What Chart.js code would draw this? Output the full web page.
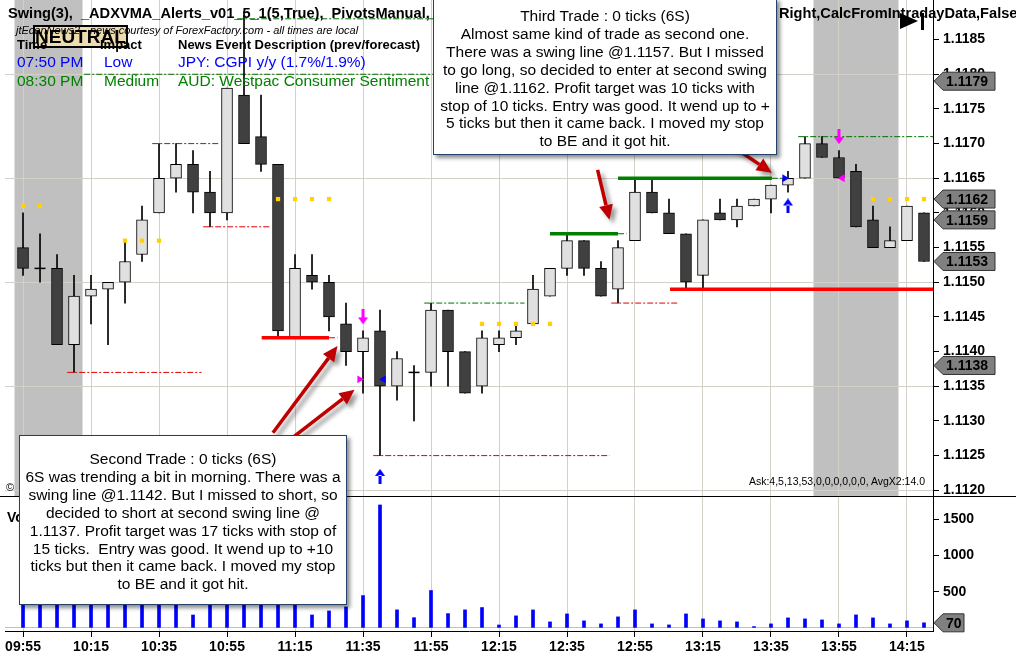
<!DOCTYPE html>
<html>
<head>
<meta charset="utf-8">
<script src="https://cdn.jsdelivr.net/npm/chart.js@4.4.1/dist/chart.umd.min.js"></script>
<style>
  body { margin: 0; background: #fff; }
  #wrap { position: relative; width: 1016px; height: 664px; overflow: hidden; background: #fff;
          font-family: "Liberation Sans", Arial, sans-serif; }
  canvas { position: absolute; left: 0; }
  #price { top: 0; }
  #volume { top: 497px; }
  .txt { position: absolute; white-space: pre; color: #000; }
  .title { font-weight: bold; font-size: 14.6px; line-height: 16px; top: 5px; }
  .head { font-weight: bold; font-size: 13px; line-height: 15px; top: 37px; }
  .row1 { font-size: 15.5px; line-height: 17px; top: 53px; color: #0000ff; }
  .row2 { font-size: 15.5px; line-height: 17px; top: 72px; color: #008000; }
  #neutralBox { position: absolute; left: 33px; top: 25px; width: 91px; height: 19px;
                background: #efdbb0; border: 2px solid #000; }
  .note { position: absolute; background: #fff; border: 1.5px solid #23406a; text-align: center;
          font-size: 15.5px; line-height: 17.9px; color: #000; box-shadow: 3px 3px 4px rgba(0,0,0,0.45);
          box-sizing: border-box; white-space: nowrap; }
  #sep { position: absolute; left: 0; top: 496px; width: 1016px; height: 1px; background: #000; }
  #endTri { position: absolute; left: 900px; top: 13px; width: 0; height: 0;
            border-left: 18px solid #000; border-top: 8.5px solid transparent; border-bottom: 8.5px solid transparent; }
  #endBar { position: absolute; left: 921px; top: 13px; width: 3px; height: 17px; background: #000; }
</style>
</head>
<body>
<div id="wrap">
  <canvas id="price" width="1016" height="497"></canvas>
  <canvas id="volume" width="1016" height="167"></canvas>
  <div id="sep"></div>

  <div class="txt title" style="left:8px">Swing(3),  _ADXVMA_Alerts_v01_5_1(5,True),  PivotsManual,</div>
  <div class="txt title" style="left:779px">Right,CalcFromIntradayData,False,T</div>
  <div id="endTri"></div><div id="endBar"></div>

  <div id="neutralBox"></div>
  <div class="txt" style="left:16px;top:24px;font-size:11px;font-style:italic;line-height:13px">jtEconNews2 - news courtesy of ForexFactory.com - all times are local</div>
  <div class="txt" style="left:35px;top:25px;font-size:19px;font-weight:bold;line-height:23px">NEUTRAL</div>
  <div class="txt head" style="left:17px">Time</div>
  <div class="txt head" style="left:100px">Impact</div>
  <div class="txt head" style="left:178px">News Event Description (prev/forecast)</div>
  <div class="txt row1" style="left:17px">07:50 PM</div>
  <div class="txt row1" style="left:104px">Low</div>
  <div class="txt row1" style="left:178px">JPY: CGPI y/y (1.7%/1.9%)</div>
  <div class="txt row2" style="left:17px">08:30 PM</div>
  <div class="txt row2" style="left:104px">Medium</div>
  <div class="txt row2" style="left:178px">AUD: Westpac Consumer Sentiment</div>

  <div class="txt" style="right:91px;top:475px;font-size:10.5px;line-height:13px">Ask:4,5,13,53,0,0,0,0,0,0, AvgX2:14.0</div>
  <div class="txt" style="left:6px;top:481px;font-size:11px;line-height:13px">©</div>
  <div class="txt" style="left:7px;top:509px;font-size:14px;font-weight:bold;line-height:16px">Volume</div>

  <div class="note" style="left:19px;top:435px;width:328px;height:170px;padding-top:14px">Second Trade : 0 ticks (6S)<br>6S was trending a bit in morning. There was a<br>swing line @1.1142. But I missed to short, so<br>decided to short at second swing line @<br>1.1137. Profit target was 17 ticks with stop of<br>15 ticks.&nbsp; Entry was good. It wend up to +10<br>ticks but then it came back. I moved my stop<br>to BE and it got hit.</div>
  <div class="note" style="left:433px;top:-2px;width:344px;height:157px;padding-top:8px">Third Trade : 0 ticks (6S)<br>Almost same kind of trade as second one.<br>There was a swing line @1.1157. But I missed<br>to go long, so decided to enter at second swing<br>line @1.1162. Profit target was 10 ticks with<br>stop of 10 ticks. Entry was good. It wend up to +<br>5 ticks but then it came back. I moved my stop<br>to BE and it got hit.</div>
</div>

<script>
// 5 minute bars
const times = ['09:55','10:00','10:05','10:10','10:15','10:20','10:25','10:30','10:35','10:40','10:45','10:50',
  '10:55','11:00','11:05','11:10','11:15','11:20','11:25','11:30','11:35','11:40','11:45','11:50',
  '11:55','12:00','12:05','12:10','12:15','12:20','12:25','12:30','12:35','12:40','12:45','12:50',
  '12:55','13:00','13:05','13:10','13:15','13:20','13:25','13:30','13:35','13:40','13:45','13:50',
  '13:55','14:00','14:05','14:10','14:15','14:20'];

const opens = [1.1155,1.1152,1.1152,1.1141,1.1148,1.1149,1.1150,1.1154,1.1160,1.1165,
  1.1167,1.1163,1.1160,1.1177,1.1171,1.1167,1.1142,1.1151,1.1150,1.1144,
  1.1140,1.1143,1.1135,1.1137,1.1137,1.1146,1.1140,1.1135,1.1141,1.1142,
  1.1144,1.1148,1.1152,1.1156,1.1152,1.1149,1.1156,1.1163,1.1160,1.1157,
  1.1151,1.1160,1.1159,1.1161,1.1162,1.1164,1.1165,1.1170,1.1168,1.1166,
  1.1159,1.1155,1.1156,1.1160];
const highs = [1.1160,1.1157,1.1154,1.1151,1.1151,1.1150,1.1156,1.1161,1.1170,1.1170,
  1.1169,1.1166,1.1178,1.1189,1.1177,1.1167,1.1154,1.1154,1.1151,1.1147,
  1.1143,1.1146,1.1140,1.1138,1.1147,1.1146,1.1140,1.1143,1.1143,1.1144,
  1.1151,1.1152,1.1157,1.1156,1.1153,1.1156,1.1165,1.1165,1.1162,1.1157,
  1.1159,1.1162,1.1162,1.1162,1.1164,1.1166,1.1171,1.1171,1.1169,1.1167,
  1.1161,1.1158,1.1161,1.1160];
const lows = [1.1151,1.1150,1.1141,1.1137,1.1144,1.1141,1.1147,1.1153,1.1160,1.1163,
  1.1160,1.1158,1.1159,1.1170,1.1166,1.1142,1.1142,1.1149,1.1143,1.1138,
  1.1134,1.1125,1.1133,1.1130,1.1135,1.1135,1.1134,1.1134,1.1140,1.1141,
  1.1144,1.1148,1.1151,1.1151,1.1148,1.1147,1.1156,1.1160,1.1157,1.1149,
  1.1149,1.1159,1.1158,1.1161,1.1160,1.1163,1.1165,1.1168,1.1165,1.1158,
  1.1155,1.1155,1.1156,1.1153];
const closes = [1.1152,1.1152,1.1141,1.1148,1.1149,1.1150,1.1153,1.1159,1.1165,1.1167,
  1.1163,1.1160,1.1178,1.1170,1.1167,1.1143,1.1152,1.1150,1.1145,1.1140,
  1.1142,1.1135,1.1139,1.1137,1.1146,1.1140,1.1134,1.1142,1.1142,1.1143,
  1.1149,1.1152,1.1156,1.1152,1.1148,1.1155,1.1163,1.1160,1.1157,1.1150,
  1.1159,1.1159,1.1161,1.1162,1.1164,1.1165,1.1170,1.1168,1.1165,1.1158,
  1.1155,1.1156,1.1161,1.1153];
const volumes = [420,380,510,460,350,330,400,440,560,470,
  178,380,620,540,450,380,700,178,234,290,
  446,1698,249,141,516,197,249,281,40,166,
  248,83,193,97,55,152,248,55,41,193,
  124,97,83,18,55,138,124,110,55,179,
  138,55,97,70];

const priceTicks = [1.1120,1.1125,1.1130,1.1135,1.1140,1.1145,1.1150,1.1155,1.1160,1.1165,1.1170,1.1175,1.1180,1.1185];
const volumeTicks = [0, 500, 1000, 1500];
const timeTickBars = [0,4,8,12,16,20,24,28,32,36,40,44,48,52];

// shaded sessions, in bar units
const shadeRanges = [[-0.5, 3.5], [46.5, 51.5]];

// [from bar, to bar, price]
const redSwing = [[14.04, 18.0, 1.1142], [38.06, 53.6, 1.1149]];
const greenSwing = [[31.0, 35.0, 1.1157], [35.0, 44.05, 1.1165]];
const redPivot = [[2.6, 10.5, 1.1137], [10.6, 14.5, 1.1158], [18.0, 18.5, 1.1142], [20.6, 34.5, 1.1125], [34.6, 38.5, 1.1147]];
const greenPivot = [[3.6, 24.4, 1.1180], [7.6, 11.5, 1.1170], [12.6, 24.4, 1.1188], [23.6, 29.5, 1.1147],
  [35.0, 35.5, 1.1157], [44.05, 44.7, 1.1165], [45.6, 53.6, 1.1171]];

// [bar, price]
const yellowDots = [[0,1.1161],[1,1.1161],[6,1.1156],[7,1.1156],[8,1.1156],
  [15,1.1162],[16,1.1162],[17,1.1162],[18,1.1162],
  [27,1.1144],[28,1.1144],[29,1.1144],[30,1.1144],[31,1.1144],
  [50,1.1162],[51,1.1162],[52,1.1162],[53,1.1162]];
const sellArrows = [[20, 1.1145], [48, 1.1171]];
const buyArrows = [[21, 1.1122], [45, 1.1161]];
const magentaRight = [[19.8, 1.1136]];
const blueLeft = [[21.2, 1.1136]];
const blueRight = [[44.8, 1.1165]];
const magentaLeft = [[48.2, 1.1165]];

// last-value tags on the right axes
const priceTags = [1.1179, 1.1162, 1.1159, 1.1153, 1.1138];
const volumeTags = [70];

// note arrows: [from bar, from price, to bar, to price]
const noteArrows = [[14.7, 1.11283, 18.5, 1.11408], [15.8, 1.11275, 19.5, 1.11345],
  [33.8, 1.11662, 34.5, 1.11590], [41.6, 1.11698, 44.05, 1.11658]];

const bars = opens.map((_, i) => i);
const FONT = 'Liberation Sans';
const GRID = '#d4d0c8';

function segments(list) {
  const pts = [];
  list.forEach(([a, b, p]) => { pts.push({ x: a, y: p }, { x: b, y: p }, { x: b, y: null }); });
  return pts;
}
function points(list) {
  return list.map(([x, y]) => ({ x, y }));
}

// little arrow glyphs used as point styles
function arrowImage(color, down) {
  const c = document.createElement('canvas');
  c.width = 10; c.height = 15;
  const g = c.getContext('2d');
  g.fillStyle = color;
  g.beginPath();
  if (down) {
    g.rect(3.5, 0, 3, 9);
    g.moveTo(0, 8); g.lineTo(10, 8); g.lineTo(5, 15);
  } else {
    g.rect(3.5, 6, 3, 9);
    g.moveTo(0, 7); g.lineTo(10, 7); g.lineTo(5, 0);
  }
  g.fill();
  return c;
}

const bodyBars = bars.filter(i => opens[i] !== closes[i]);
const bodies = bodyBars.map(i => ({ x: i, y: [opens[i], closes[i]] }));
const bodyColors = bodyBars.map(i => closes[i] > opens[i] ? '#e0e0e0' : '#404040');
const dojis = bars.filter(i => opens[i] === closes[i]).map(i => ({ x: i, y: closes[i] }));
const wicks = bars.map(i => ({ x: i, y: [lows[i], highs[i]] }));

function drawTag(ctx, x, y, text, w) {
  ctx.save();
  ctx.beginPath();
  ctx.moveTo(x + 1, y);
  ctx.lineTo(x + 10, y - 9);
  ctx.lineTo(x + 10 + w, y - 9);
  ctx.lineTo(x + 10 + w, y + 9);
  ctx.lineTo(x + 10, y + 9);
  ctx.closePath();
  ctx.fillStyle = '#808080';
  ctx.fill();
  ctx.strokeStyle = '#333';
  ctx.lineWidth = 1;
  ctx.stroke();
  ctx.fillStyle = '#000';
  ctx.font = 'bold 14px "' + FONT + '"';
  ctx.textBaseline = 'middle';
  ctx.textAlign = 'left';
  ctx.fillText(text, x + 13, y + 1);
  ctx.restore();
}

function drawNoteArrow(ctx, x1, y1, x2, y2) {
  const ang = Math.atan2(y2 - y1, x2 - x1);
  const head = 15, half = 7;
  const bx = x2 - head * Math.cos(ang), by = y2 - head * Math.sin(ang);
  ctx.save();
  ctx.shadowColor = 'rgba(0,0,0,0.4)';
  ctx.shadowBlur = 4;
  ctx.shadowOffsetX = 4;
  ctx.shadowOffsetY = 4;
  ctx.strokeStyle = '#c00000';
  ctx.fillStyle = '#c00000';
  ctx.lineWidth = 3.5;
  ctx.beginPath();
  ctx.moveTo(x1, y1);
  ctx.lineTo(bx, by);
  ctx.stroke();
  ctx.beginPath();
  ctx.moveTo(x2, y2);
  ctx.lineTo(bx + half * Math.sin(ang), by - half * Math.cos(ang));
  ctx.lineTo(bx - half * Math.sin(ang), by + half * Math.cos(ang));
  ctx.closePath();
  ctx.fill();
  ctx.restore();
}

// gray session bands under the grid
const bandPlugin = {
  id: 'bands',
  beforeDraw(chart) {
    const { ctx, chartArea, scales } = chart;
    ctx.save();
    ctx.fillStyle = '#c0c0c0';
    shadeRanges.forEach(([a, b]) => {
      const x1 = scales.x.getPixelForValue(a), x2 = scales.x.getPixelForValue(b);
      ctx.fillRect(x1, chartArea.top, x2 - x1, chartArea.bottom - chartArea.top);
    });
    ctx.restore();
  }
};

const notePlugin = {
  id: 'notes',
  afterDatasetsDraw(chart) {
    const { ctx, scales } = chart;
    noteArrows.forEach(([a, p, b, q]) => {
      drawNoteArrow(ctx, scales.x.getPixelForValue(a), scales.y.getPixelForValue(p),
        scales.x.getPixelForValue(b), scales.y.getPixelForValue(q));
    });
  }
};

const priceTagPlugin = {
  id: 'priceTags',
  afterDraw(chart) {
    const { ctx, chartArea, scales } = chart;
    priceTags.forEach(v => drawTag(ctx, chartArea.right, scales.y.getPixelForValue(v), v.toFixed(4), 52));
  }
};

const volumeTagPlugin = {
  id: 'volumeTags',
  afterDraw(chart) {
    const { ctx, chartArea, scales } = chart;
    volumeTags.forEach(v => drawTag(ctx, chartArea.right, scales.y.getPixelForValue(v), String(v), 21));
  }
};

const xRange = { min: -1.06, max: 53.53 };

new Chart(document.getElementById('price'), {
  type: 'bar',
  data: {
    datasets: [
      { type: 'line', data: segments(redPivot), borderColor: '#e00000', borderWidth: 1,
        borderDash: [6, 2, 2, 2], pointRadius: 0, order: 9 },
      { type: 'line', data: segments(greenPivot), borderColor: '#007000', borderWidth: 1,
        borderDash: [6, 2, 2, 2], pointRadius: 0, order: 9 },
      { data: wicks, backgroundColor: '#000', barThickness: 1, grouped: false, order: 8 },
      { data: bodies, backgroundColor: bodyColors, borderColor: '#000', borderWidth: 1,
        borderSkipped: false, barThickness: 11, grouped: false, order: 7 },
      { type: 'scatter', data: dojis, pointStyle: 'line', pointRadius: 5.5, borderColor: '#000',
        borderWidth: 1.5, order: 6 },
      { type: 'line', data: segments(redSwing), borderColor: '#ff0000', borderWidth: 3.5,
        pointRadius: 0, order: 5 },
      { type: 'line', data: segments(greenSwing), borderColor: '#008000', borderWidth: 3.5,
        pointRadius: 0, order: 5 },
      { type: 'scatter', data: points(yellowDots), pointStyle: 'rect', pointRadius: 3,
        backgroundColor: '#ffd200', borderWidth: 0, order: 4 },
      { type: 'scatter', data: points(sellArrows), pointStyle: arrowImage('#ff00ff', true), order: 3 },
      { type: 'scatter', data: points(buyArrows), pointStyle: arrowImage('#0000ff', false), order: 3 },
      { type: 'scatter', data: points(magentaRight), pointStyle: 'triangle', rotation: 90, pointRadius: 4.5,
        backgroundColor: '#ff00ff', borderWidth: 0, order: 3 },
      { type: 'scatter', data: points(magentaLeft), pointStyle: 'triangle', rotation: -90, pointRadius: 4.5,
        backgroundColor: '#ff00ff', borderWidth: 0, order: 3 },
      { type: 'scatter', data: points(blueLeft), pointStyle: 'triangle', rotation: -90, pointRadius: 4.5,
        backgroundColor: '#0000ff', borderWidth: 0, order: 3 },
      { type: 'scatter', data: points(blueRight), pointStyle: 'triangle', rotation: 90, pointRadius: 4.5,
        backgroundColor: '#0000ff', borderWidth: 0, order: 3 }
    ]
  },
  options: {
    responsive: false,
    animation: false,
    layout: { autoPadding: false, padding: { left: 5, right: 0, top: 0, bottom: 0 } },
    plugins: { legend: { display: false }, tooltip: { enabled: false } },
    scales: {
      x: {
        type: 'linear', position: 'bottom', min: xRange.min, max: xRange.max, offset: false,
        ticks: { display: false },
        grid: { color: GRID, drawTicks: false, offset: false },
        border: { display: false },
        afterBuildTicks: s => { s.ticks = timeTickBars.map(v => ({ value: v })); },
        afterFit: s => { s.height = 0; s.paddingLeft = 0; s.paddingRight = 0; }
      },
      y: {
        type: 'linear', position: 'right', min: 1.111903, max: 1.119071,
        afterBuildTicks: s => { s.ticks = priceTicks.map(v => ({ value: v })); },
        ticks: { callback: v => v.toFixed(4), color: '#000', padding: 4,
                 font: { family: FONT, size: 14, weight: 'bold' } },
        grid: { color: c => (c.index % 3 === 0 ? GRID : 'rgba(0,0,0,0)'), tickColor: '#000', tickLength: 6 },
        border: { color: '#000' },
        afterFit: s => { s.width = 83; s.paddingTop = 0; s.paddingBottom = 0; }
      }
    }
  },
  plugins: [bandPlugin, notePlugin, priceTagPlugin]
});

new Chart(document.getElementById('volume'), {
  type: 'bar',
  data: {
    datasets: [
      { data: bars.map(i => ({ x: i, y: volumes[i] })), backgroundColor: '#0000ff',
        barThickness: 3, grouped: false }
    ]
  },
  options: {
    responsive: false,
    animation: false,
    layout: { autoPadding: false, padding: { left: 5, right: 0, top: 0, bottom: 0 } },
    plugins: { legend: { display: false }, tooltip: { enabled: false } },
    scales: {
      x: {
        type: 'linear', position: 'bottom', min: xRange.min, max: xRange.max, offset: false,
        afterBuildTicks: s => { s.ticks = timeTickBars.map(v => ({ value: v })); },
        ticks: { callback: v => times[v], color: '#000', padding: 2, maxRotation: 0, autoSkip: false,
                 font: { family: FONT, size: 14, weight: 'bold' } },
        grid: { color: GRID, tickColor: '#000', tickLength: 6, offset: false },
        border: { color: '#000' },
        afterFit: s => { s.height = 33; s.paddingLeft = 0; s.paddingRight = 0; }
      },
      y: {
        type: 'linear', position: 'right', min: -43, max: 1808,
        afterBuildTicks: s => { s.ticks = volumeTicks.map(v => ({ value: v })); },
        ticks: { callback: v => (v === 0 ? '' : String(v)), color: '#000', padding: 4,
                 font: { family: FONT, size: 14, weight: 'bold' } },
        grid: { color: c => (c.tick && c.tick.value === 0 ? '#c0c0c0' : 'rgba(0,0,0,0)'),
                tickColor: c => (c.tick && c.tick.value === 0 ? 'rgba(0,0,0,0)' : '#000'), tickLength: 6 },
        border: { color: '#000' },
        afterFit: s => { s.width = 83; s.paddingTop = 0; s.paddingBottom = 0; }
      }
    }
  },
  plugins: [volumeTagPlugin]
});
</script>
</body>
</html>
